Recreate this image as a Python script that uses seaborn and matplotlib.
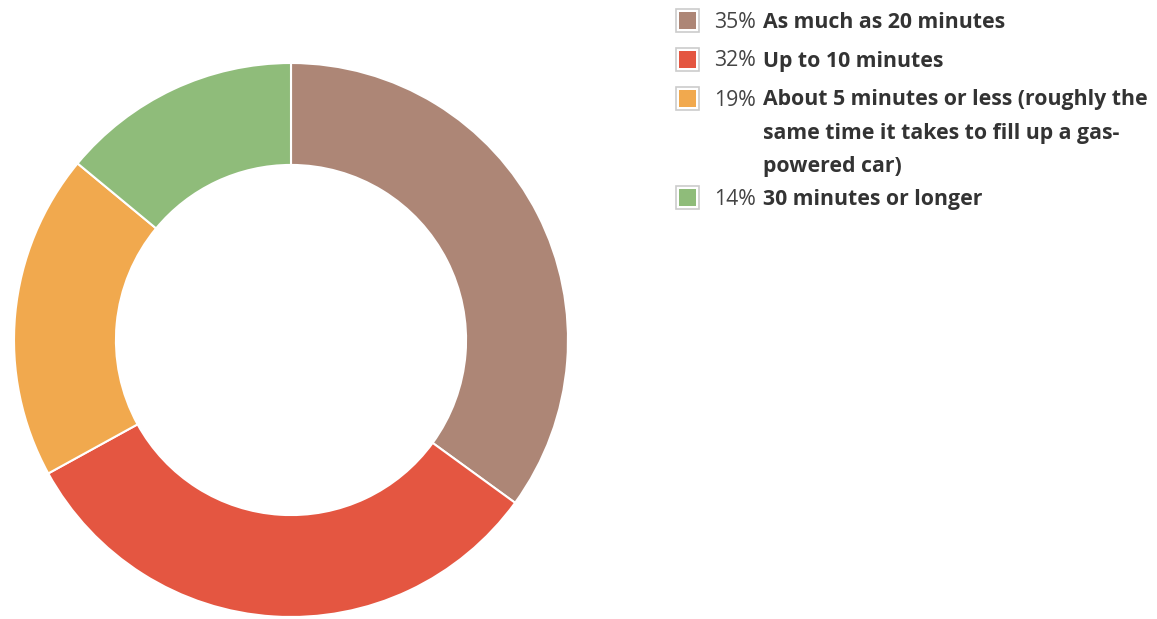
import matplotlib
matplotlib.use("Agg")
import matplotlib.pyplot as plt
from matplotlib.patches import Rectangle
import seaborn as sns

categories = ["As much as 20 minutes", "Up to 10 minutes",
              "About 5 minutes or less (roughly the\nsame time it takes to fill up a gas-\npowered car)",
              "30 minutes or longer"]
values = [35, 32, 19, 14]
pct_labels = ["35%", "32%", "19%", "14%"]
colors = ["#ad8676", "#e45641", "#f1a94e", "#8fbc7a"]

sns.set_theme(style="white")
plt.rcParams['font.family'] = ['Open Sans', 'DejaVu Sans']

W, H = 1157, 619
fig = plt.figure(figsize=(W / 100, H / 100), dpi=100)
fig.patch.set_facecolor("white")

cx, cy, R = 291, 340, 277
ax = fig.add_axes([(cx - R) / W, (H - cy - R) / H, 2 * R / W, 2 * R / H])
ax.pie(values, colors=colors, startangle=90, counterclock=False, radius=1,
       wedgeprops=dict(width=0.368, edgecolor="white", linewidth=1.5))
ax.set_xlim(-1, 1)
ax.set_ylim(-1, 1)
ax.set_aspect("equal")
ax.axis("off")

# legend
fs = 15.3
y_pos = [21, 60, 99, 198]
for i, (lab, pct, col) in enumerate(zip(categories, pct_labels, colors)):
    y = y_pos[i]
    fig.patches.append(Rectangle(((676) / W, (H - y - 11) / H), 23 / W, 23 / H,
                                 transform=fig.transFigure, facecolor="white",
                                 edgecolor="#cccccc", linewidth=1.2))
    fig.patches.append(Rectangle(((679) / W, (H - y - 8) / H), 17 / W, 17 / H,
                                 transform=fig.transFigure, facecolor=col,
                                 edgecolor="none"))
    fig.text(714 / W, (H - y - 1) / H, pct, fontsize=fs, color="#444444",
             va="center", ha="left")
    lines = lab.split("\n")
    for j, ln in enumerate(lines):
        fig.text(763 / W, (H - y - 1 - j * 33) / H, ln, fontsize=fs, color="#333333",
                 fontweight="bold", va="center", ha="left")

fig.savefig("out.png", dpi=100, facecolor="white")
